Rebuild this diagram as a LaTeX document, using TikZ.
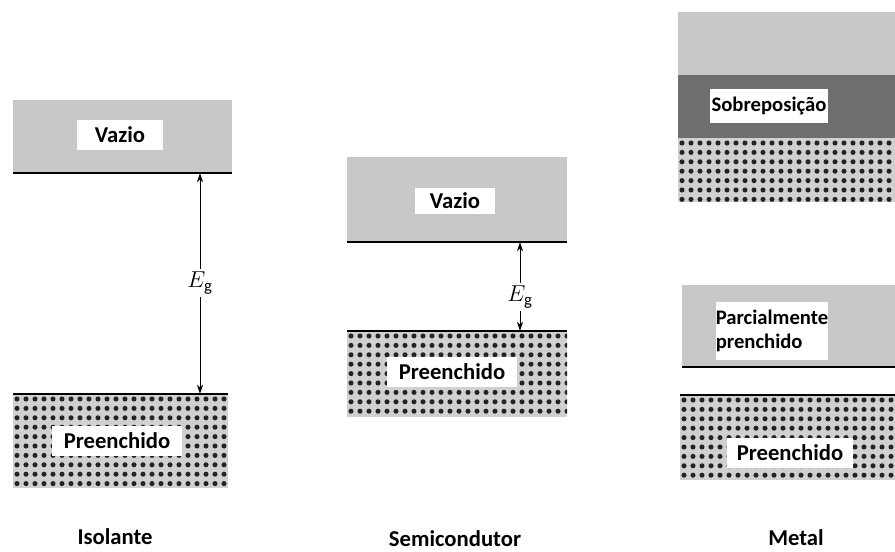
\documentclass[tikz,border=0pt]{standalone}
\usepackage{fontspec}
\setmainfont{Carlito}
\usetikzlibrary{arrows.meta}

\definecolor{bandgray}{RGB}{200,200,200}
\definecolor{overlapgray}{RGB}{110,110,110}
\definecolor{dotback}{RGB}{208,208,208}
\definecolor{dotink}{RGB}{35,35,35}

\tikzset{
  emptyband/.style={fill=bandgray},
  edgeline/.style={line width=1.6pt},
  labelbox/.style={fill=white, inner sep=0pt, minimum height=23pt,
    font=\bfseries\fontsize{17}{20}\selectfont},
  smallbox/.style={labelbox, font=\bfseries\fontsize{15.5}{18}\selectfont},
  title/.style={anchor=base, font=\bfseries\fontsize{17}{20}\selectfont},
  gaplabel/.style={font=\fontsize{18}{21}\selectfont, inner sep=2pt},
  gap/.style={-{Stealth[length=7pt,width=4.5pt]}, line width=0.7pt},
}

% dotted (filled) band: x1, y1, x2, y2
\newcommand{\filledband}[4]{%
  \fill[dotback] (#1,#2) rectangle (#3,#4);
  \begin{scope}
    \clip (#1,#2) rectangle (#3,#4);
    \foreach \i in {0,...,26}
      \foreach \j in {0,...,10}
        \fill[dotink] (#1+4+9*\i,#2+5+9.4*\j) circle (1.9pt);
  \end{scope}}

\begin{document}
\begin{tikzpicture}[x=0.75pt, y=-0.75pt]
    \useasboundingbox (0,0) rectangle (895,552);

    % isolante
    \fill[emptyband] (13,100) rectangle (232,173);
    \draw[edgeline] (13,173) -- (232,173);
    \filledband{13}{394}{228}{488}
    \draw[edgeline] (13,394) -- (228,394);
    \node[labelbox, minimum width=64pt] (vazioI) at (120,135) {Vazio};
    \node[labelbox, minimum width=97pt] (preenI) at (117,441) {Preenchido};
    \coordinate (topI) at (200,173);
    \coordinate (botI) at (200,394);
    \node[gaplabel] (egI) at (200,283) {$E_{\mathrm{g}}$};
    \draw[gap] (egI) -- (topI);
    \draw[gap] (egI) -- (botI);

    % semicondutor
    \fill[emptyband] (347,157) rectangle (567,242);
    \draw[edgeline] (347,242) -- (567,242);
    \filledband{347}{331}{567}{417}
    \draw[edgeline] (347,331) -- (567,331);
    \node[labelbox, minimum width=60pt, minimum height=20pt] (vazioS) at (455,201) {Vazio};
    \node[labelbox, minimum width=97pt] (preenS) at (452,372) {Preenchido};
    \coordinate (topS) at (520,242);
    \coordinate (botS) at (520,331);
    \node[gaplabel] (egS) at (520,297) {$E_{\mathrm{g}}$};
    \draw[gap] (egS) -- (topS);
    \draw[gap] (egS) -- (botS);

    % metal
    \fill[emptyband] (678,12) rectangle (895,75);
    \fill[overlapgray] (678,75) rectangle (895,138);
    \filledband{678}{138}{895}{202}
    \fill[emptyband] (682,285) rectangle (895,367);
    \draw[edgeline] (682,367) -- (895,367);
    \filledband{680}{395}{895}{480}
    \draw[edgeline] (680,395) -- (895,395);
    \node[smallbox, minimum width=88pt, minimum height=25pt] (sobreM) at (769,106) {Sobreposição};
    \node[smallbox, minimum width=79pt, minimum height=43pt, align=left] (parcM) at (772,331) {Parcialmente\\prenchido};
    \node[labelbox, minimum width=94pt] (preenM) at (790,453) {Preenchido};

    % titles
    \node[title] (isolante) at (115,544) {Isolante};
    \node[title] (semicond) at (455,546) {Semicondutor};
    \node[title] (metal) at (796,545) {Metal};
\end{tikzpicture}
\end{document}
